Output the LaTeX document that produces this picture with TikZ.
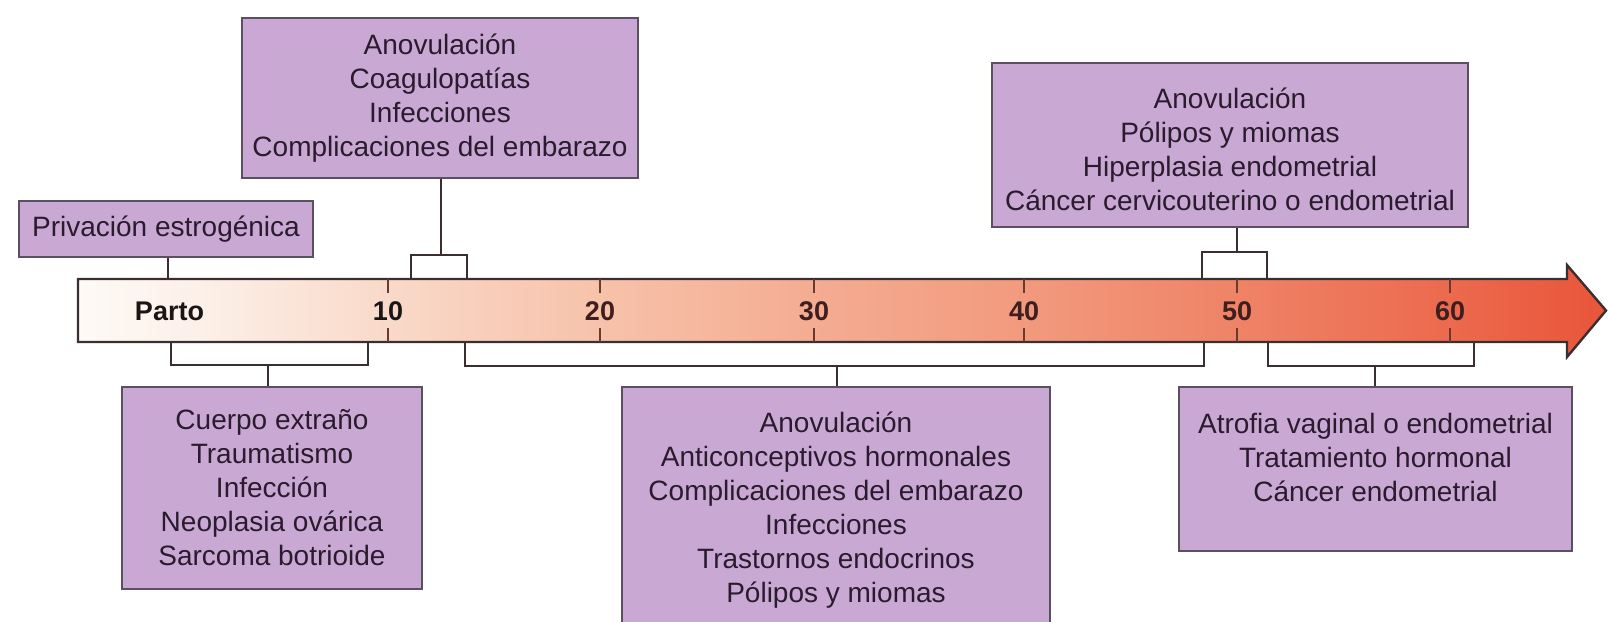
\documentclass[tikz,border=0pt]{standalone}
\usepackage{fontspec}
\setmainfont{Liberation Sans}
\definecolor{boxfill}{HTML}{C9A9D3}
\definecolor{boxline}{HTML}{5A5060}
\definecolor{txt}{HTML}{2B1B2E}
\definecolor{barline}{HTML}{3A2E2E}
\definecolor{numcol}{HTML}{3E1E1E}
\definecolor{partocol}{HTML}{1A1616}
\definecolor{tickcol}{HTML}{6A3A30}
\definecolor{s0}{HTML}{FEFAF6}
\definecolor{s1}{HTML}{FCF0E8}
\definecolor{s2}{HTML}{F9D9C9}
\definecolor{s3}{HTML}{F7C2AA}
\definecolor{s4}{HTML}{F4AC92}
\definecolor{s5}{HTML}{F29A7E}
\definecolor{s6}{HTML}{EF8366}
\definecolor{s7}{HTML}{EC6A4E}
\definecolor{s8}{HTML}{E8553A}
\pgfdeclarehorizontalshading{barshade}{100bp}{color(0bp)=(s0); color(25bp)=(s0); color(29bp)=(s1); color(35.15bp)=(s2); color(42.05bp)=(s3); color(49.05bp)=(s4); color(55.95bp)=(s5); color(62.9bp)=(s6); color(69.85bp)=(s7); color(75bp)=(s8); color(100bp)=(s8)}
\tikzset{
  box/.style={draw=boxline, line width=1pt, fill=boxfill, text=txt, align=center, font=\fontsize{14}{17}\selectfont, inner sep=0pt},
  boxtext/.style={text=txt, align=center, font=\fontsize{14}{17}\selectfont, inner sep=0pt},
  barlab/.style={font=\bfseries\fontsize{13.5}{16}\selectfont, text=numcol, inner sep=0pt},
  link/.style={draw=barline, line width=1pt},
  tickmark/.style={draw=tickcol, line width=0.8pt}
}
\begin{document}
\begin{tikzpicture}[x=0.5pt,y=-0.5pt]
\clip (0,0) rectangle (1609,621);
\fill[white] (0,0) rectangle (1609,621);

% timeline arrow
\path[draw=barline, line width=1.2pt, shading=barshade, line join=miter]
  (78,279) -- (1567,279) -- (1567,265) -- (1606,310.5) -- (1567,357) -- (1567,342) -- (78,342) -- cycle;

\foreach \x in {388,600,814,1024,1237,1450} {
  \draw[tickmark] (\x,279) -- (\x,293);
  \draw[tickmark] (\x,328) -- (\x,342);
}

\node[barlab, text=partocol] (l0) at (169.5,311) {Parto};
\node[barlab, text=partocol] (l10) at (388,311) {10};
\node[barlab] (l20) at (600,311) {20};
\node[barlab] (l30) at (814,311) {30};
\node[barlab] (l40) at (1024,311) {40};
\node[barlab] (l50) at (1237,311) {50};
\node[barlab] (l60) at (1450,311) {60};

% boxes
\node[box, minimum width=147pt, minimum height=28pt] (priv) at (166,229) {Privación estrogénica};
\node[box, minimum width=198pt, minimum height=80pt] (topA) at (440,98)
  {Anovulación\\Coagulopatías\\Infecciones\\Complicaciones del embarazo};
\node[box, minimum width=238pt, minimum height=82pt] (topB) at (1230,145) {};
\node[boxtext] (topBt) at (1230,149.5)
  {Anovulación\\Pólipos y miomas\\Hiperplasia endometrial\\Cáncer cervicouterino o endometrial};
\node[box, minimum width=150pt, minimum height=101pt] (botL) at (272,488)
  {Cuerpo extraño\\Traumatismo\\Infección\\Neoplasia ovárica\\Sarcoma botrioide};
\node[box, minimum width=214pt, minimum height=123pt] (botM) at (836,510)
  {Anovulación\\Anticonceptivos hormonales\\Complicaciones del embarazo\\Infecciones\\Trastornos endocrinos\\Pólipos y miomas};
\node[box, minimum width=196.5pt, minimum height=82pt] (botR) at (1375.5,469) {};
\node[boxtext] (botRt) at (1375.5,457.5)
  {Atrofia vaginal o endometrial\\Tratamiento hormonal\\Cáncer endometrial};

% brackets and connectors
\coordinate (p0) at (168,279);
\draw[link] (p0) -- (p0 |- priv.south);

\coordinate (b1a) at (411,279);
\coordinate (b1b) at (467,279);
\coordinate (b1m) at (441,255);
\draw[link] (b1a) |- (b1m) -| (b1b);
\draw[link] (b1m) -- (b1m |- topA.south);

\coordinate (b2a) at (1202,279);
\coordinate (b2b) at (1267,279);
\coordinate (b2m) at (1237,252);
\draw[link] (b2a) |- (b2m) -| (b2b);
\draw[link] (b2m) -- (b2m |- topB.south);

\coordinate (b3a) at (171,342);
\coordinate (b3b) at (368,342);
\coordinate (b3m) at (268,365);
\draw[link] (b3a) |- (b3m) -| (b3b);
\draw[link] (b3m) -- (b3m |- botL.north);

\coordinate (b4a) at (465,342);
\coordinate (b4b) at (1204,342);
\coordinate (b4m) at (837,366);
\draw[link] (b4a) |- (b4m) -| (b4b);
\draw[link] (b4m) -- (b4m |- botM.north);

\coordinate (b5a) at (1268,342);
\coordinate (b5b) at (1474,342);
\coordinate (b5m) at (1375,366);
\draw[link] (b5a) |- (b5m) -| (b5b);
\draw[link] (b5m) -- (b5m |- botR.north);
\end{tikzpicture}
\end{document}
